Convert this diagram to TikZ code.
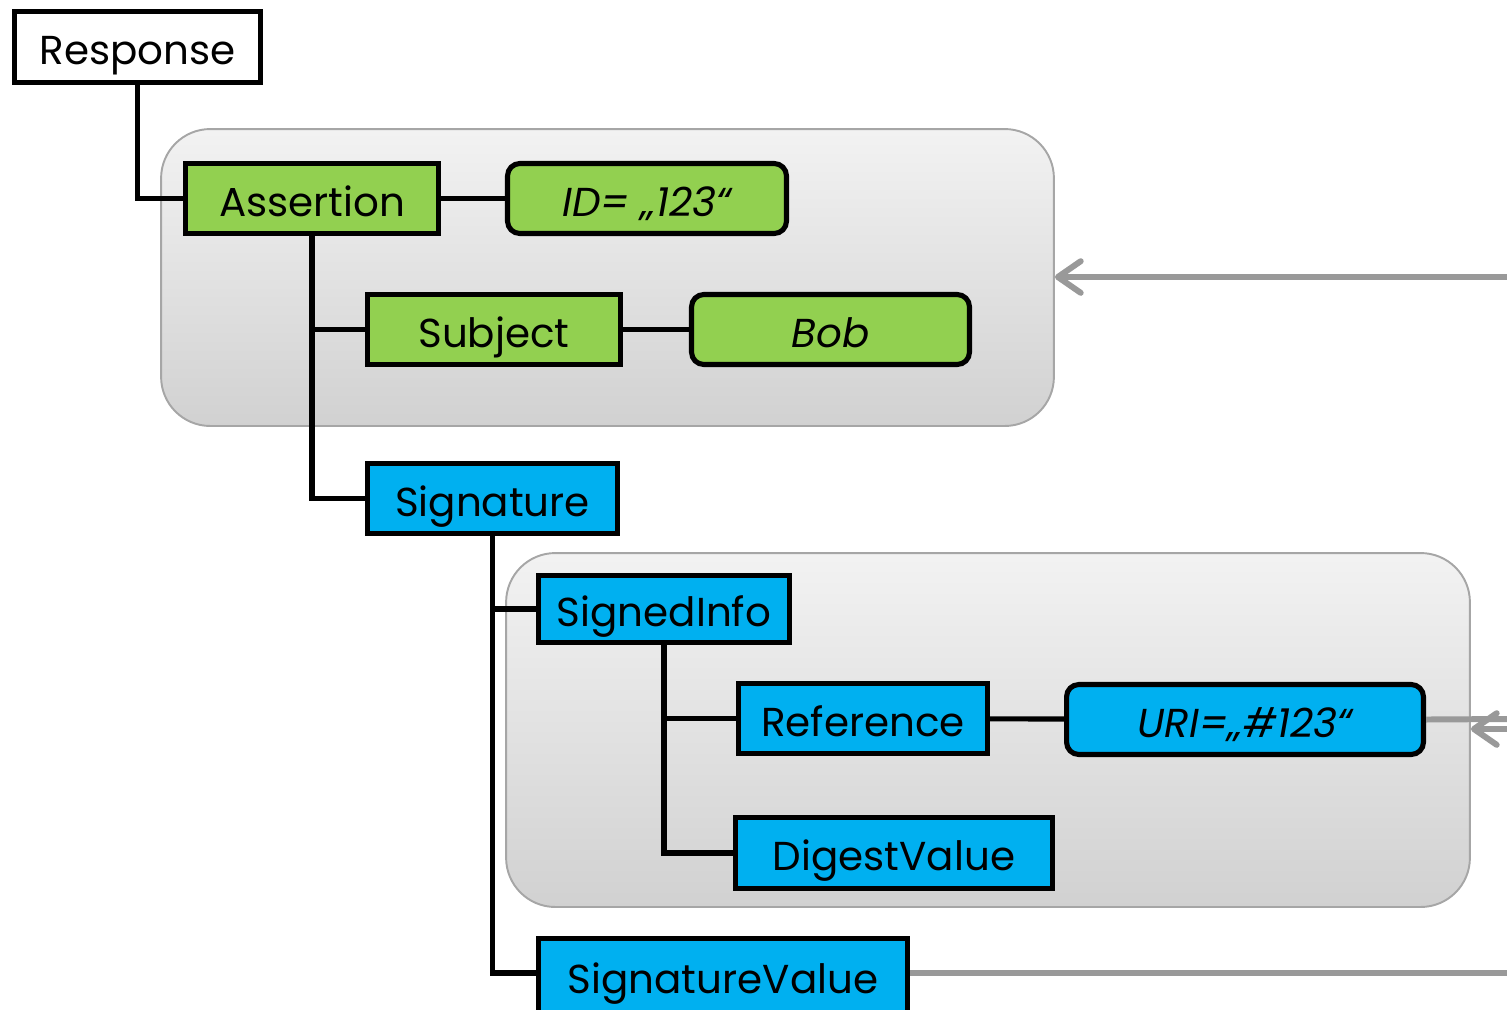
\documentclass[tikz,border=0pt]{standalone}
\usepackage{fontspec}
\setmainfont{Poppins}
\usetikzlibrary{arrows.meta}

\definecolor{elemgreen}{HTML}{92D050}
\definecolor{elemblue}{HTML}{00B0F0}
\definecolor{feedgray}{HTML}{999999}
\definecolor{groupline}{HTML}{A6A6A6}

\begin{document}
\begin{tikzpicture}[x=0.02cm, y=-0.02cm,
  elem/.style={draw, line width=2.9pt, inner sep=0pt, minimum height=1.4cm,
    text height=20pt, text depth=0pt, font=\fontsize{23}{28}\selectfont},
  attr/.style={elem, rounded corners=7pt, font=\fontsize{23}{28}\selectfont\itshape},
  group/.style={draw=groupline, line width=1.1pt, rounded corners=28pt, inner sep=0pt,
    top color=black!5, bottom color=black!18},
  link/.style={line width=2.9pt},
  feed/.style={draw=feedgray, line width=3.4pt, line cap=round}]

\useasboundingbox (0,0) rectangle (1507,1009);

\node[group, minimum width=17.86cm, minimum height=5.94cm] (group1) at (607.5,277.5) {};
\node[group, minimum width=19.28cm, minimum height=7.08cm] (group2) at (988,730) {};

\node[elem, fill=white, minimum width=4.92cm, minimum height=1.42cm] (response) at (137.5,47) {Response};

\node[elem, fill=elemgreen, minimum width=5.06cm] (assertion) at (312,198.5) {Assertion};
\node[attr, fill=elemgreen, minimum width=5.58cm] (id) at (647,198.5) {ID= „123“};
\node[elem, fill=elemgreen, minimum width=5.06cm] (subject) at (494,329.5) {Subject};
\node[attr, fill=elemgreen, minimum width=5.56cm] (bob) at (830.5,329.5) {Bob};

\node[elem, fill=elemblue, minimum width=5.00cm] (signature) at (492.5,498.5) {Signature};
\node[elem, fill=elemblue, minimum width=5.02cm, minimum height=1.34cm] (signedinfo) at (664,609) {SignedInfo};
\node[elem, fill=elemblue, minimum width=4.98cm] (reference) at (863,718.5) {Reference};
\node[attr, fill=elemblue, minimum width=7.14cm] (uri) at (1245,719.5) {URI=„\#123“};
\node[elem, fill=elemblue, minimum width=6.34cm, minimum height=1.42cm] (digest) at (894,853) {DigestValue};
\node[elem, fill=elemblue, minimum width=7.38cm, minimum height=1.5cm] (sigvalue) at (723,976) {SignatureValue};

\draw[link] (response.south) |- (assertion.west);
\draw[link] (assertion) -- (id);
\draw[link] (assertion.south) |- (signature.west);
\draw[link] (assertion.south |- subject.west) -- (subject.west);
\draw[link] (subject) -- (bob);
\draw[link] (signature.south) |- (sigvalue.west |- 0,973);
\draw[link] (signature.south |- signedinfo.west) -- (signedinfo.west);
\draw[link] (signedinfo.south) |- (digest.west);
\draw[link] (signedinfo.south |- reference.west) -- (reference.west);
\draw[link] (reference) -- (uri);

\coordinate (in1) at (1507,277);
\coordinate (in2) at (1507,729);
\coordinate (out1) at (1507,719);
\coordinate (out2) at (1507,973);

\draw[feed, {Straight Barb[length=13pt, width=18pt, round]}-] (group1.east |- in1) -- (in1);
\draw[feed, {Straight Barb[length=13pt, width=18pt, round]}-] (group2.east |- in2) -- (in2);
\draw[feed, line cap=butt] (uri.east) -- (out1);
\draw[feed, line cap=butt] (sigvalue.east |- out2) -- (out2);

\end{tikzpicture}
\end{document}
